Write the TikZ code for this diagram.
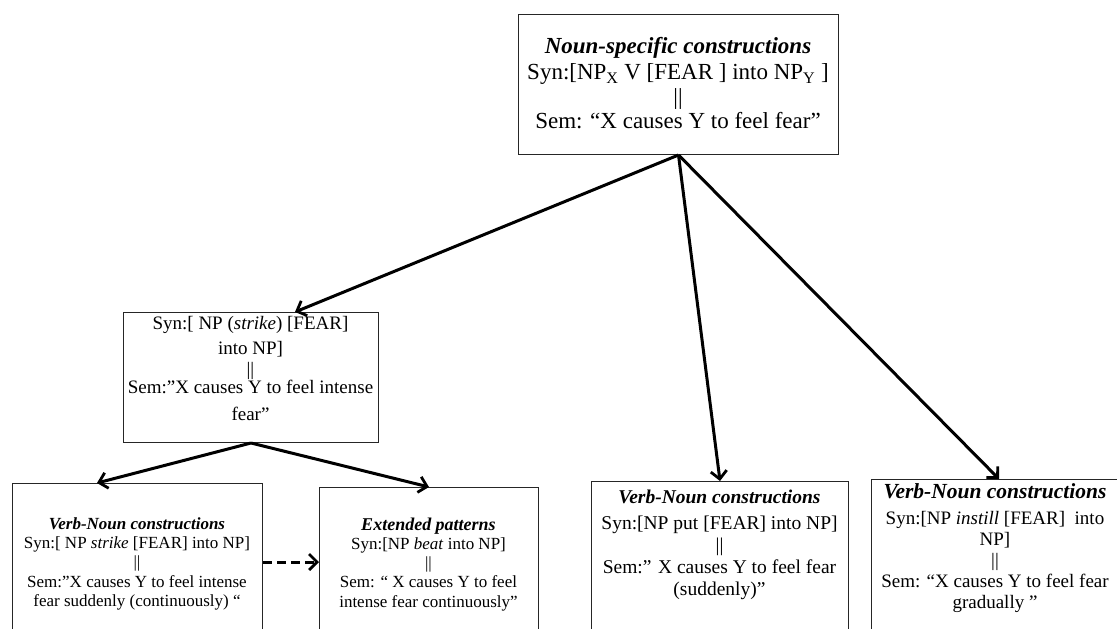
\documentclass[tikz,border=0pt]{standalone}
\usepackage{fontspec}
\setmainfont{Liberation Serif}
\usetikzlibrary{arrows.meta,calc}

\tikzset{
  frame/.style={draw=black!85, line width=1pt, inner sep=0pt, anchor=north west},
  label/.style={inner sep=0pt, anchor=north, align=center},
  link/.style={line width=3pt, -{Straight Barb[length=8pt,width=16pt,line width=2.8pt]}},
  weaklink/.style={link, dash pattern=on 9pt off 5pt},
}
\newcommand{\hd}[1]{\textbf{\textit{#1}}}

\begin{document}
\begin{tikzpicture}[x=1pt,y=-1pt]
\useasboundingbox (0,0) rectangle (1117,629);
\clip (0,0) rectangle (1117,629);

% top: the general noun-specific construction
\node[frame, minimum width=320pt, minimum height=140pt] (top) at (518,14) {};
\node[label, font=\fontsize{23}{24.5}\selectfont] (toptext) at (678,35)
  {\rule{0pt}{18.4pt}\hd{Noun-specific constructions}\\[1.5pt]
   Syn:[NP\textsubscript{X} V [FEAR ] into NP\textsubscript{Y} ]\\
   ||\\
   Sem: “X causes Y to feel fear”};

% middle: strike-type intense fear
\node[frame, minimum width=255pt, minimum height=130pt] (mid) at (123,312) {};
\node[label, font=\fontsize{19}{21}\selectfont] (midtext) at (250.5,313.8)
  {\rule{0pt}{15.2pt}Syn:[ NP (\textit{strike}) [FEAR]\\[4pt]
   into NP]\\
   ||\\[-3pt]
   Sem:”X causes Y to feel intense\\[6pt]
   fear”};

% bottom row
\node[frame, minimum width=250pt, minimum height=180pt] (bl) at (12,483) {};
\node[label, font=\fontsize{17}{19.3}\selectfont] (bltext) at (137,515.4)
  {\rule{0pt}{13.6pt}\hd{Verb-Noun constructions}\\
   Syn:[ NP \textit{strike} [FEAR] into NP]\\
   ||\\
   Sem:”X causes Y to feel intense\\
   fear suddenly (continuously) “};

\node[frame, minimum width=219pt, minimum height=180pt] (ext) at (319,487) {};
\node[label, font=\fontsize{17}{19.3}\selectfont] (exttext) at (428.5,515.4)
  {\rule{0pt}{14.4pt}{\fontsize{18}{19.3}\selectfont\hd{Extended patterns}}\\
   Syn:[NP \textit{beat} into NP]\\
   ||\\
   Sem: “ X causes Y to feel\\
   intense fear continuously”};

\node[frame, minimum width=257pt, minimum height=180pt] (put) at (591,481) {};
\node[label, font=\fontsize{19.5}{22}\selectfont] (puttext) at (719.5,487.4)
  {\rule{0pt}{15.6pt}\hd{Verb-Noun constructions}\\[4pt]
   Syn:[NP put [FEAR] into NP]\\
   ||\\
   Sem:” X causes Y to feel fear\\
   (suddenly)”};

\node[frame, minimum width=260pt, minimum height=180pt] (ins) at (871,479) {};
\node[label, font=\fontsize{19}{21}\selectfont] (instext) at (995,480.8)
  {\rule{0pt}{17.2pt}{\fontsize{21.5}{21}\selectfont\hd{Verb-Noun constructions}}\\[5pt]
   Syn:[NP \textit{instill} [FEAR]~ into\\
   NP]\\
   ||\\
   Sem: “X causes Y to feel fear\\
   gradually ”};

% connectors
\draw[link] (top.south) -- ([xshift=172pt]mid.north west);
\draw[link] (top.south) -- (put.north);
\draw[link] (top.south) -- ([xshift=128pt]ins.north west);
\draw[link] (mid.south) -- ([xshift=85pt]bl.north west);
\draw[link] (mid.south) -- (ext.north);
\draw[weaklink] ([yshift=-79pt]bl.north east) -- ([yshift=-75pt]ext.north west);
\end{tikzpicture}
\end{document}
